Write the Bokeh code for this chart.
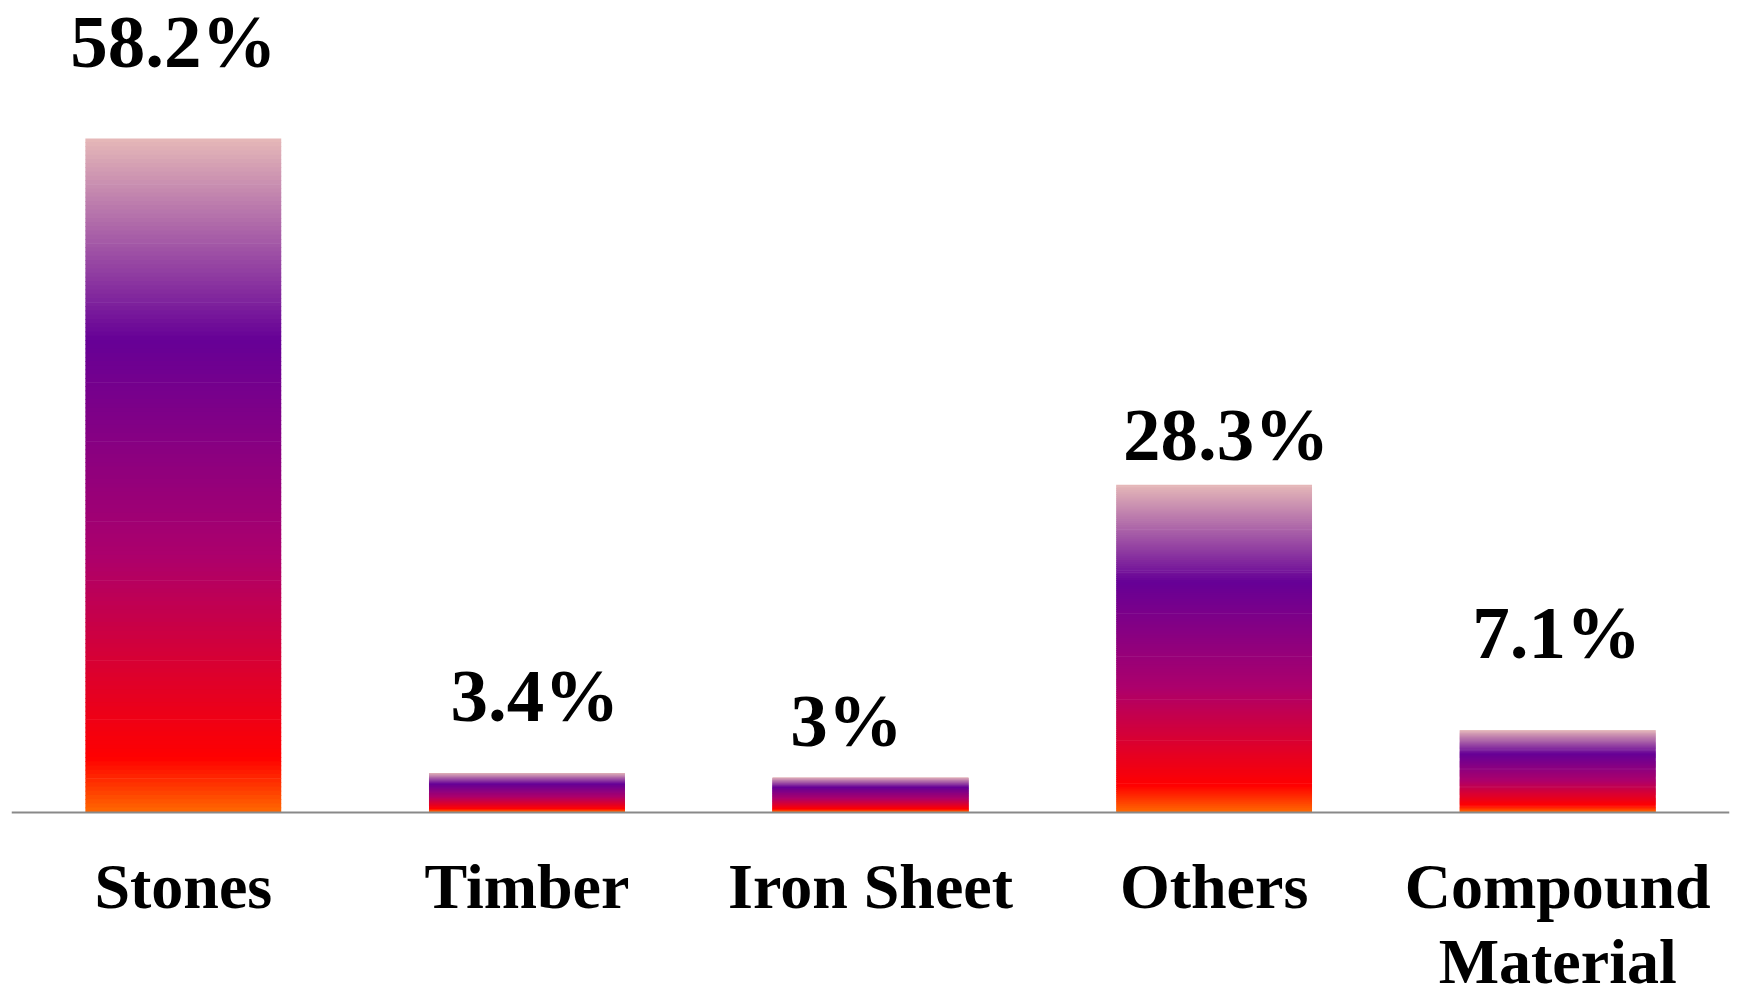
from bokeh.plotting import figure
from bokeh.models import ColumnDataSource, Range1d
from bokeh.core.properties import value
from bokeh.embed import file_html
from bokeh.resources import INLINE

# Roofing material shares (%)
categories = ["Stones", "Timber", "Iron Sheet", "Others", "Compound\nMaterial"]
shares = [58.2, 3.4, 3.0, 28.3, 7.1]
share_labels = ["58.2%", "3.4%", "3%", "28.3%", "7.1%"]

# hand-placed label nudges (screen px): horizontal shift, lift above the bar
label_dx = [-10, 8, -24, 12, -1]
label_lift = [97, 78, 57, 50, 98]

# vertical gradient stops: position from bar top (0) to bottom (1), RGB
grad_pos = [0.0, 0.30, 0.62, 0.92, 1.0]
grad_rgb = [(230, 185, 184), (102, 0, 150), (172, 0, 108), (255, 0, 0), (255, 104, 0)]

SERIF = "Liberation Serif"
BAR_W = 0.57
SLICES = 160
OVERLAP = 0.06  # each band reaches a little under the one above it (no seams)


def grad_color(t):
    for k in range(len(grad_pos) - 1):
        a, b = grad_pos[k], grad_pos[k + 1]
        if t <= b:
            f = (t - a) / (b - a)
            c0, c1 = grad_rgb[k], grad_rgb[k + 1]
            r, g, bl = (round(c0[i] + (c1[i] - c0[i]) * f) for i in range(3))
            return "#%02x%02x%02x" % (r, g, bl)
    return "#%02x%02x%02x" % grad_rgb[-1]


# split each bar into thin horizontal bands carrying the gradient
xs, tops, bottoms, colors = [], [], [], []
for cat, v in zip(categories, shares):
    for k in range(SLICES):
        xs.append(cat)
        top = v * (1 - k / SLICES)
        tops.append(top if k == 0 else min(top + OVERLAP, v))
        bottoms.append(v * (1 - (k + 1) / SLICES))
        colors.append(grad_color((k + 0.5) / SLICES))

bands = ColumnDataSource(dict(x=xs, top=tops, bottom=bottoms, color=colors))

# frame fills the canvas height; the category axis sits at y = 0
p = figure(
    x_range=categories,
    y_range=Range1d(-15.11, 70.12),
    width=1737,
    height=987,
    output_backend="svg",
    toolbar_location=None,
    y_axis_location=None,
    min_border_left=11,
    min_border_right=8,
    min_border_top=0,
    min_border_bottom=0,
)
p.x_range.range_padding = 0
p.outline_line_color = None
p.grid.grid_line_color = None
p.background_fill_color = "white"
p.border_fill_color = "white"

p.vbar(x="x", top="top", bottom="bottom", width=BAR_W, source=bands,
       fill_color="color", line_color=None)

labels = ColumnDataSource(dict(
    x=categories, y=shares, text=share_labels,
    dx=label_dx, dy=[-g for g in label_lift],
))
p.text(x="x", y="y", text="text", source=labels, x_offset="dx", y_offset="dy",
       text_align="center", text_baseline="alphabetic",
       text_font=value(SERIF), text_font_style="bold",
       text_font_size="75px", text_color="black")

ax = p.xaxis[0]
ax.fixed_location = 0
ax.axis_line_color = "#898989"
ax.axis_line_width = 2
ax.major_tick_line_color = None
ax.minor_tick_line_color = None
ax.major_label_text_font = SERIF
ax.major_label_text_font_style = "bold"
ax.major_label_text_font_size = "64px"
ax.major_label_text_color = "black"
ax.major_label_text_line_height = 1.06
ax.major_label_standoff = 32

open("out.html", "w").write(file_html(p, INLINE))
